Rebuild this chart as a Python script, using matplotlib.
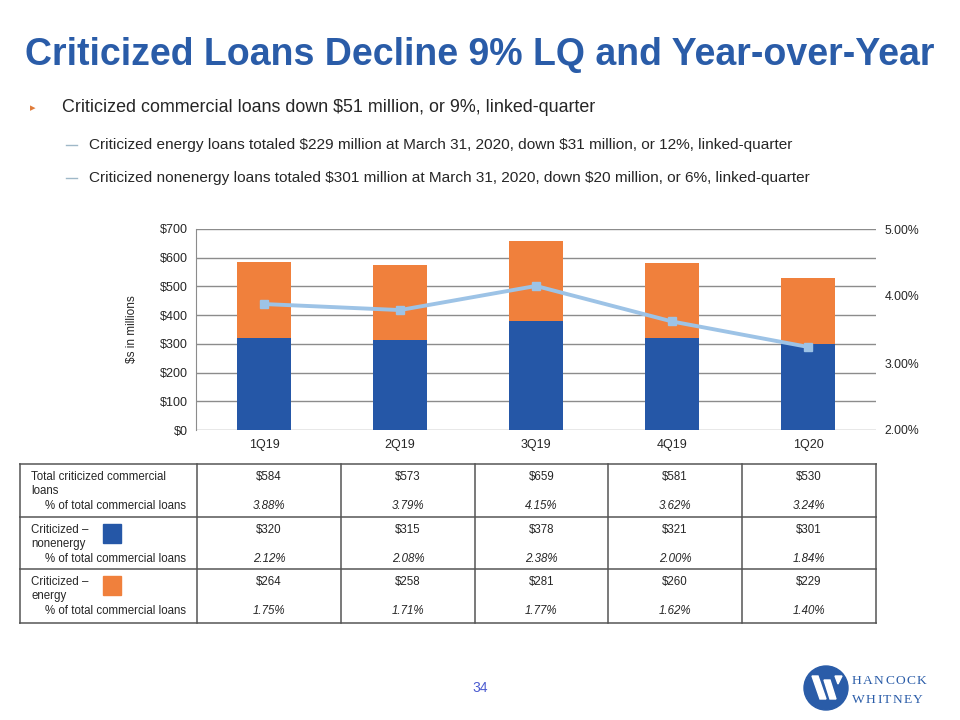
import matplotlib
matplotlib.use("Agg")
import matplotlib.pyplot as plt
from matplotlib.patches import Circle, Rectangle, Polygon
from matplotlib.ticker import FuncFormatter, MultipleLocator

# ---------------- data ----------------
quarters = ["1Q19", "2Q19", "3Q19", "4Q19", "1Q20"]
nonenergy = [320, 315, 378, 321, 301]
energy = [264, 258, 281, 260, 229]
total = [584, 573, 659, 581, 530]
pct_total = [3.88, 3.79, 4.15, 3.62, 3.24]
pct_nonenergy = [2.12, 2.08, 2.38, 2.00, 1.84]
pct_energy = [1.75, 1.71, 1.77, 1.62, 1.40]

title = "Criticized Loans Decline 9% LQ and Year-over-Year"
bullet_main = "Criticized commercial loans down $51 million, or 9%, linked-quarter"
bullet_subs = [
    "Criticized energy loans totaled $229 million at March 31, 2020, down $31 million, or 12%, linked-quarter",
    "Criticized nonenergy loans totaled $301 million at March 31, 2020, down $20 million, or 6%, linked-quarter",
]

BLUE = "#2557A7"
ORANGE = "#F0803C"
LINE = "#9DC3E6"
GRID = "#8C8C8C"
TXT = "#262626"
FONT = ["Liberation Sans", "DejaVu Sans"]
plt.rcParams["font.family"] = FONT

W, H = 960, 720
fig = plt.figure(figsize=(9.6, 7.2), dpi=100)

# background axes in pixel coordinates
bg = fig.add_axes([0, 0, 1, 1])
bg.set_xlim(0, W)
bg.set_ylim(H, 0)
bg.axis("off")

# ---------------- header text ----------------
bg.text(25, 55, title, fontsize=27, fontweight="bold", color="#2A5CA8",
        va="center", ha="left", parse_math=False)
bg.text(33, 108, "\u25B8", fontsize=8, color="#E07B39", va="center", ha="center",
        family="DejaVu Sans")
bg.text(62, 107, bullet_main, fontsize=12.9, color=TXT, va="center", ha="left",
        parse_math=False)
for yy, s in zip([145, 178], bullet_subs):
    bg.plot([66, 77], [yy, yy], color="#9FB8C8", lw=1)
    bg.text(89, yy, s, fontsize=11.05, color=TXT, va="center", ha="left",
            parse_math=False)

# ---------------- chart ----------------
L, R, T, B = 196, 876, 229, 430
ax = fig.add_axes([L / W, 1 - B / H, (R - L) / W, (B - T) / H])
x = list(range(len(quarters)))
ax.bar(x, nonenergy, width=0.4, color=BLUE, zorder=3)
ax.bar(x, energy, width=0.4, bottom=nonenergy, color=ORANGE, zorder=3)
ax.set_xlim(-0.5, len(quarters) - 0.5)
ax.set_ylim(0, 700)
ax.yaxis.set_major_locator(MultipleLocator(100))
ax.yaxis.set_major_formatter(FuncFormatter(lambda v, p: f"${v:,.0f}"))
ax.grid(axis="y", color=GRID, lw=1, zorder=0)
ax.set_axisbelow(True)
for s in ["top", "right", "bottom"]:
    ax.spines[s].set_visible(False)
ax.spines["left"].set_color(GRID)
ax.set_xticks(x)
ax.set_xticklabels(quarters)
ax.tick_params(axis="both", length=0, labelsize=9, colors=TXT)
ax.tick_params(axis="y", pad=6)
ax.tick_params(axis="x", pad=6.5)
ax.set_ylabel("$s in millions", fontsize=8.5, color=TXT)
ax.yaxis.set_label_coords((138 - L) / (R - L), 0.5)

ax2 = ax.twinx()
ax2.plot(x, pct_total, color=LINE, lw=2.8, marker="s", markersize=6,
         markerfacecolor=LINE, markeredgecolor=LINE, zorder=5)
ax2.set_ylim(2, 5)
ax2.yaxis.set_major_locator(MultipleLocator(1))
ax2.yaxis.set_major_formatter(FuncFormatter(lambda v, p: f"{v:.2f}%"))
for s in ["top", "right", "bottom", "left"]:
    ax2.spines[s].set_visible(False)
ax2.tick_params(axis="y", length=0, labelsize=8.8, colors=TXT, pad=6)

# ---------------- table ----------------
cols = [20, 197, 341, 475, 608, 742, 876]
rows = [464, 517, 569, 623]
for i, yy in enumerate(rows):
    bg.plot([cols[0], cols[-1]], [yy, yy], color="#7A7A7A", lw=1.4)
for xx in cols:
    bg.plot([xx, xx], [rows[0], rows[-1]], color="#555555", lw=1.1)
centers = [(cols[i] + cols[i + 1]) / 2 for i in range(1, len(cols) - 1)]

row_specs = [
    (["Total criticized commercial", "loans"], total, pct_total, None),
    (["Criticized \u2013", "nonenergy"], nonenergy, pct_nonenergy, BLUE),
    (["Criticized \u2013", "energy"], energy, pct_energy, ORANGE),
]
fs = 8.3
for r, (labels, vals, pcts, sw) in enumerate(row_specs):
    top = rows[r]
    y1, y2, y3 = top + 13, top + 27, top + 42
    bg.text(31, y1, labels[0], fontsize=fs, color=TXT, va="center", ha="left")
    bg.text(31, y2, labels[1], fontsize=fs, color=TXT, va="center", ha="left")
    bg.text(45, y3, "% of total commercial loans", fontsize=fs, color=TXT,
            va="center", ha="left")
    if sw is not None:
        bg.add_patch(Rectangle((103, top + 7), 18, 19, color=sw))
    for cx, v, p in zip(centers, vals, pcts):
        bg.text(cx, y1, f"${v}", fontsize=fs, color=TXT, va="center",
                ha="center", parse_math=False)
        bg.text(cx, y3, f"{p:.2f}%", fontsize=fs, color=TXT, va="center",
                ha="center", style="italic")

# ---------------- footer ----------------
bg.text(480, 688, "34", fontsize=10, color="#4B5BD0", va="center", ha="center")
bg.add_patch(Circle((826, 688), 22, color="#2A5CA8"))
bg.add_patch(Polygon([(812, 676), (818, 676), (826, 699), (820, 699)], color="white"))
bg.add_patch(Polygon([(824, 680), (830, 680), (836, 699), (830, 699)], color="white"))
bg.add_patch(Polygon([(835, 676), (842, 676), (838, 684)], color="white"))

renderer = fig.canvas.get_renderer()
for yy, s in zip([681, 700], ["HANCOCK", "WHITNEY"]):
    xpos = 852.0
    for ch in s:
        t = bg.text(xpos, yy, ch, fontsize=9.7, color="#2A5CA8",
                    va="center", ha="left",
                    family=["Liberation Serif", "DejaVu Serif"])
        wpx = t.get_window_extent(renderer=renderer).width
        xpos += wpx + 1.3

fig.savefig("out.png", dpi=100)
